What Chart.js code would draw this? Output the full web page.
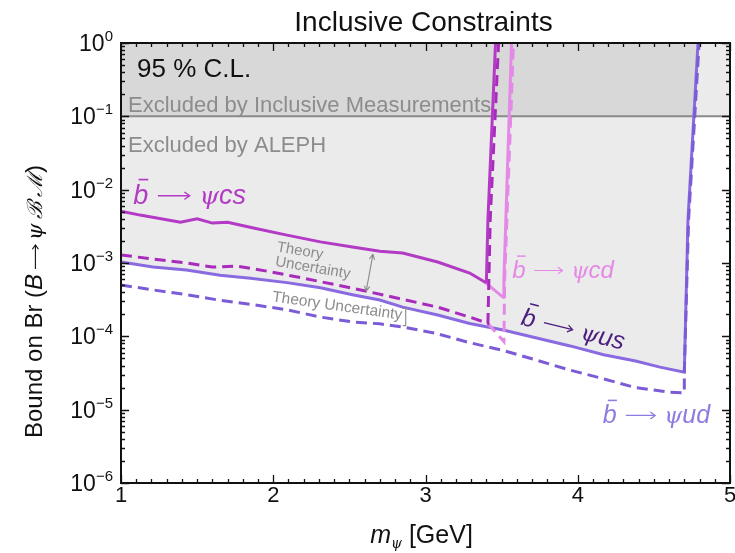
<!DOCTYPE html>
<html>
<head>
<meta charset="utf-8">
<script src="https://cdn.jsdelivr.net/npm/chart.js@4.4.1/dist/chart.umd.min.js"></script>
<style>
  html, body { margin: 0; padding: 0; background: #fff; }
  canvas { display: block; }
</style>
</head>
<body>
<canvas id="c" width="735" height="553"></canvas>
<script>
// bound curves, m_psi in GeV vs upper bound on the branching ratio
const csX = [1.0, 1.125, 1.39, 1.50, 1.60, 1.70, 1.87, 2.09, 2.31, 2.52, 2.70, 2.85, 3.08, 3.29, 3.39, 3.40, 3.41, 3.46];
const csY = [5.1e-3, 4.5e-3, 3.6e-3, 4.0e-3, 3.5e-3, 3.6e-3, 3.0e-3, 2.4e-3, 1.94e-3, 1.65e-3, 1.45e-3, 1.37e-3, 1.03e-3, 7.3e-4, 5.5e-4, 5.5e-4, 3.9e-3, 1];

const csLowX = [1.0, 1.21, 1.43, 1.60, 1.76, 1.98, 2.20, 2.42, 2.64, 2.85, 3.08, 3.29, 3.41, 3.425, 3.48];
const csLowY = [1.29e-3, 1.13e-3, 1.0e-3, 8.8e-4, 9.1e-4, 7.6e-4, 6.2e-4, 5.0e-4, 4.0e-4, 3.2e-4, 2.5e-4, 1.83e-4, 1.5e-4, 3.9e-3, 1];

const cdX = [3.39, 3.51, 3.515, 3.565];
const cdY = [5.5e-4, 3.4e-4, 6e-4, 1];

const cdLowX = [3.41, 3.515, 3.52, 3.578];
const cdLowY = [1.5e-4, 8.5e-5, 6e-4, 1];

const usX = [1.0, 1.21, 1.43, 1.65, 1.85, 2.09, 2.31, 2.52, 2.70, 2.85, 3.08, 3.29, 3.51, 3.73, 3.95, 4.17, 4.38, 4.54, 4.70, 4.724, 4.79];
const usY = [1.03e-3, 8.8e-4, 8.0e-4, 6.8e-4, 6.2e-4, 5.4e-4, 4.6e-4, 3.7e-4, 3.13e-4, 2.5e-4, 1.95e-4, 1.5e-4, 1.22e-4, 9.5e-5, 7.4e-5, 5.6e-5, 4.6e-5, 3.8e-5, 3.25e-5, 3.9e-3, 1];

const udX = [1.0, 1.21, 1.43, 1.65, 1.87, 2.09, 2.31, 2.52, 2.70, 2.84, 3.06, 3.28, 3.50, 3.72, 3.94, 4.15, 4.38, 4.59, 4.70, 4.70, 4.728, 4.797];
const udY = [5.0e-4, 4.3e-4, 3.7e-4, 3.1e-4, 2.7e-4, 2.3e-4, 1.83e-4, 1.57e-4, 1.48e-4, 1.35e-4, 1.11e-4, 8.3e-5, 6.5e-5, 4.8e-5, 3.5e-5, 2.7e-5, 2.0e-5, 1.74e-5, 1.7e-5, 3.25e-5, 3.9e-3, 1];

// inclusive measurement limit
const inclX = [1, 5];
const inclY = [0.1, 0.1];

const xTicks = [1, 2, 3, 4, 5];
const yTickExps = [0, -1, -2, -3, -4, -5, -6];

const SANS = '"Liberation Sans", Arial, sans-serif';
const GRAY_TEXT = '#8c8c8c';

function pts(xs, ys) {
  return xs.map((x, i) => ({ x: x, y: ys[i] }));
}

function lineSet(xs, ys, color, dashed, extra) {
  return Object.assign({
    data: pts(xs, ys),
    borderColor: color,
    borderWidth: 3,
    borderDash: dashed ? [11, 6] : [],
    pointRadius: 0,
    tension: 0,
    fill: false
  }, extra || {});
}

// draw a row of text runs with mixed fonts, optionally rotated
function drawRuns(ctx, runs, x, y, angle, align, color) {
  ctx.save();
  ctx.translate(x, y);
  ctx.rotate(angle || 0);
  ctx.textBaseline = 'alphabetic';
  ctx.textAlign = 'left';
  let total = 0;
  runs.forEach(r => {
    if (r.arrow) { r.w = r.len; } else { ctx.font = r.font; r.w = ctx.measureText(r.t).width; }
    total += r.w;
  });
  let cx = align === 'center' ? -total / 2 : (align === 'right' ? -total : 0);
  runs.forEach(r => {
    const c = r.color || color;
    ctx.fillStyle = c;
    ctx.strokeStyle = c;
    if (r.arrow) {
      // long thin math arrow
      const yy = -r.size * 0.3, x0 = cx + r.pad, x1 = cx + r.len - r.pad;
      ctx.lineWidth = r.size / 20;
      ctx.beginPath();
      ctx.moveTo(x0, yy); ctx.lineTo(x1, yy);
      ctx.moveTo(x1 - r.size * 0.2, yy - r.size * 0.14); ctx.lineTo(x1, yy);
      ctx.lineTo(x1 - r.size * 0.2, yy + r.size * 0.14);
      ctx.stroke();
    } else {
      ctx.font = r.font;
      ctx.fillText(r.t, cx, r.dy || 0);
      if (r.bar) {
        const s = r.size;
        ctx.lineWidth = s / 16;
        ctx.beginPath();
        ctx.moveTo(cx + s * 0.2, -s * 0.9);
        ctx.lineTo(cx + s * 0.56, -s * 0.9);
        ctx.stroke();
      }
    }
    cx += r.w;
  });
  ctx.restore();
}

function decayRuns(tail, size) {
  return [
    { t: 'b', font: 'italic ' + size + 'px ' + SANS, bar: true, size: size },
    { arrow: true, len: size * 1.9, pad: size * 0.36, size: size },
    { t: '\u03C8', font: 'italic ' + (size - 2) + 'px "DejaVu Serif"' },
    { t: tail, font: 'italic ' + size + 'px ' + SANS }
  ];
}

const frame = {
  id: 'frame',
  beforeDraw(chart) {
    const ctx = chart.ctx;
    ctx.save();
    ctx.fillStyle = '#fff';
    ctx.fillRect(0, 0, chart.width, chart.height);
    ctx.restore();
  },
  afterDraw(chart) {
    const ctx = chart.ctx;
    const a = chart.chartArea;
    const xs = chart.scales.x;
    const ys = chart.scales.y;
    const P = (x, y) => [xs.getPixelForValue(x), ys.getPixelForValue(y)];

    ctx.save();
    // tick marks on all four sides
    ctx.strokeStyle = '#111';
    ctx.lineWidth = 1.3;
    ctx.beginPath();
    for (let v = 1; v <= 5.0001; v += 0.1) {
      const px = Math.round(xs.getPixelForValue(v)) + 0.5;
      const major = Math.abs(v - Math.round(v)) < 1e-6;
      const len = major ? 8 : 4;
      ctx.moveTo(px, a.bottom); ctx.lineTo(px, a.bottom - len);
      ctx.moveTo(px, a.top); ctx.lineTo(px, a.top + len);
    }
    for (let e = -6; e <= 0; e++) {
      for (let k = 1; k <= 9; k++) {
        const v = k * Math.pow(10, e);
        if (v > 1.0001) continue;
        const py = Math.round(ys.getPixelForValue(v)) + 0.5;
        const len = k === 1 ? 8 : 4;
        ctx.moveTo(a.left, py); ctx.lineTo(a.left + len, py);
        ctx.moveTo(a.right, py); ctx.lineTo(a.right - len, py);
      }
    }
    ctx.stroke();

    // frame
    ctx.lineWidth = 2;
    ctx.strokeStyle = '#111';
    ctx.strokeRect(a.left, a.top, a.right - a.left, a.bottom - a.top);

    // x tick labels
    ctx.fillStyle = '#111';
    ctx.font = '22px ' + SANS;
    ctx.textAlign = 'center';
    ctx.textBaseline = 'alphabetic';
    xTicks.forEach(v => {
      ctx.fillText(String(v), xs.getPixelForValue(v), a.bottom + 19);
    });

    // y tick labels as powers of ten
    yTickExps.forEach(e => {
      const py = ys.getPixelForValue(Math.pow(10, e));
      const ex = e === 0 ? '0' : '\u2212' + Math.abs(e);
      drawRuns(ctx, [
        { t: '10', font: '23px ' + SANS },
        { t: ex, font: '15px ' + SANS, dy: -10 }
      ], a.left - 8, py + 8, 0, 'right', '#111');
    });

    // title and axis titles
    ctx.fillStyle = '#111';
    ctx.font = '28px ' + SANS;
    ctx.textAlign = 'center';
    ctx.fillText('Inclusive Constraints', (a.left + a.right) / 2 - 2, 31);

    drawRuns(ctx, [
      { t: 'm', font: 'italic 25px ' + SANS },
      { t: '\u03C8', font: 'italic 14px "DejaVu Serif"', dy: 5 },
      { t: ' [GeV]', font: '25px ' + SANS }
    ], (a.left + a.right) / 2 - 4, a.bottom + 60, 0, 'center', '#111');

    // rotated y title, written upwards from the bottom end
    drawRuns(ctx, [
      { t: 'Bound on Br (', font: '24px ' + SANS },
      { t: 'B', font: 'italic 24px ' + SANS },
      { arrow: true, len: 34, pad: 5, size: 22 },
      { t: '\u03C8', font: 'italic 21px "DejaVu Serif"' },
      { t: '\u2009\u212C', font: 'italic 21px "DejaVu Serif"' },
      { t: '\u2009\u2133', font: 'italic 21px "DejaVu Serif"' },
      { t: ')', font: '24px ' + SANS }
    ], 42, 438, -Math.PI / 2, 'left', '#111');

    // panel notes
    ctx.textAlign = 'left';
    ctx.fillStyle = '#111';
    ctx.font = '26px ' + SANS;
    ctx.fillText('95 % C.L.', a.left + 16, a.top + 34);
    ctx.fillStyle = GRAY_TEXT;
    ctx.font = '22px ' + SANS;
    ctx.fillText('Excluded by Inclusive Measurements', a.left + 7, a.top + 69);
    ctx.fillText('Excluded by ALEPH', a.left + 7, a.top + 109);

    // curve labels
    let p = P(1.08, 6.4e-3);
    drawRuns(ctx, decayRuns('cs', 27), p[0], p[1], 0, 'left', '#b23ac4');
    p = P(3.57, 6.3e-4);
    drawRuns(ctx, decayRuns('cd', 24), p[0], p[1], 0, 'left', '#e48ae6');
    p = P(3.62, 1.45e-4);
    drawRuns(ctx, decayRuns('us', 25), p[0], p[1], 0.24, 'left', '#4b1d7d');
    p = P(4.165, 6.6e-6);
    drawRuns(ctx, decayRuns('ud', 25), p[0], p[1], 0, 'left', '#8e7ae0');

    // theory uncertainty notes
    p = P(2.02, 1.45e-3);
    drawRuns(ctx, [{ t: 'Theory', font: '15px ' + SANS }], p[0], p[1], 0.17, 'left', GRAY_TEXT);
    p = P(2.01, 9.2e-4);
    drawRuns(ctx, [{ t: 'Uncertainty', font: '15px ' + SANS }], p[0], p[1], 0.17, 'left', GRAY_TEXT);
    p = P(1.99, 3.0e-4);
    drawRuns(ctx, [{ t: 'Theory Uncertainty', font: '15.5px ' + SANS }], p[0], p[1], 0.14, 'left', GRAY_TEXT);

    // double headed arrow between the cs bounds
    const t = P(2.655, 1.32e-3), b = P(2.61, 4.1e-4);
    ctx.strokeStyle = '#8a8a8a';
    ctx.lineWidth = 1.1;
    ctx.beginPath();
    ctx.moveTo(t[0], t[1]); ctx.lineTo(b[0], b[1]);
    const ang = Math.atan2(b[1] - t[1], b[0] - t[0]);
    [[t, ang + Math.PI], [b, ang]].forEach(([q, d]) => {
      ctx.moveTo(q[0], q[1]);
      ctx.lineTo(q[0] - 6 * Math.cos(d - 0.45), q[1] - 6 * Math.sin(d - 0.45));
      ctx.moveTo(q[0], q[1]);
      ctx.lineTo(q[0] - 6 * Math.cos(d + 0.45), q[1] - 6 * Math.sin(d + 0.45));
    });
    ctx.stroke();

    // small bracket between the us bounds
    const u = P(2.87, 2.4e-4), l = P(2.87, 1.4e-4);
    ctx.beginPath();
    ctx.moveTo(u[0] - 3, u[1]); ctx.lineTo(u[0], u[1]);
    ctx.lineTo(l[0], l[1]); ctx.lineTo(l[0] - 3, l[1]);
    ctx.stroke();
    ctx.restore();
  }
};

new Chart(document.getElementById('c'), {
  type: 'line',
  data: {
    datasets: [
      // shaded exclusions
      lineSet(inclX, inclY, '#8a8a8a', false, { borderWidth: 2, fill: 'end', backgroundColor: 'rgba(0,0,0,0.078)', order: 9 }),
      lineSet(usX, usY, '#8a6ae0', false, { fill: 'end', backgroundColor: 'rgba(0,0,0,0.078)', order: 8 }),
      // bound curves
      lineSet(udX, udY, '#7b5bd6', true, { order: 5 }),
      lineSet(cdLowX, cdLowY, '#e48ae6', true, { order: 4 }),
      lineSet(cdX, cdY, '#e48ae6', false, { order: 3 }),
      lineSet(csLowX, csLowY, '#a82bbd', true, { order: 2 }),
      lineSet(csX, csY, '#b23ac4', false, { order: 1 })
    ]
  },
  options: {
    responsive: false,
    animation: false,
    devicePixelRatio: 1,
    layout: { padding: { left: 121, right: 5, top: 43, bottom: 70 } },
    scales: {
      x: { type: 'linear', min: 1, max: 5, display: false },
      y: { type: 'logarithmic', min: 1e-6, max: 1, display: false }
    },
    plugins: {
      legend: { display: false },
      tooltip: { enabled: false },
      filler: { drawTime: 'beforeDatasetsDraw' }
    }
  },
  plugins: [frame]
});
</script>
</body>
</html>
